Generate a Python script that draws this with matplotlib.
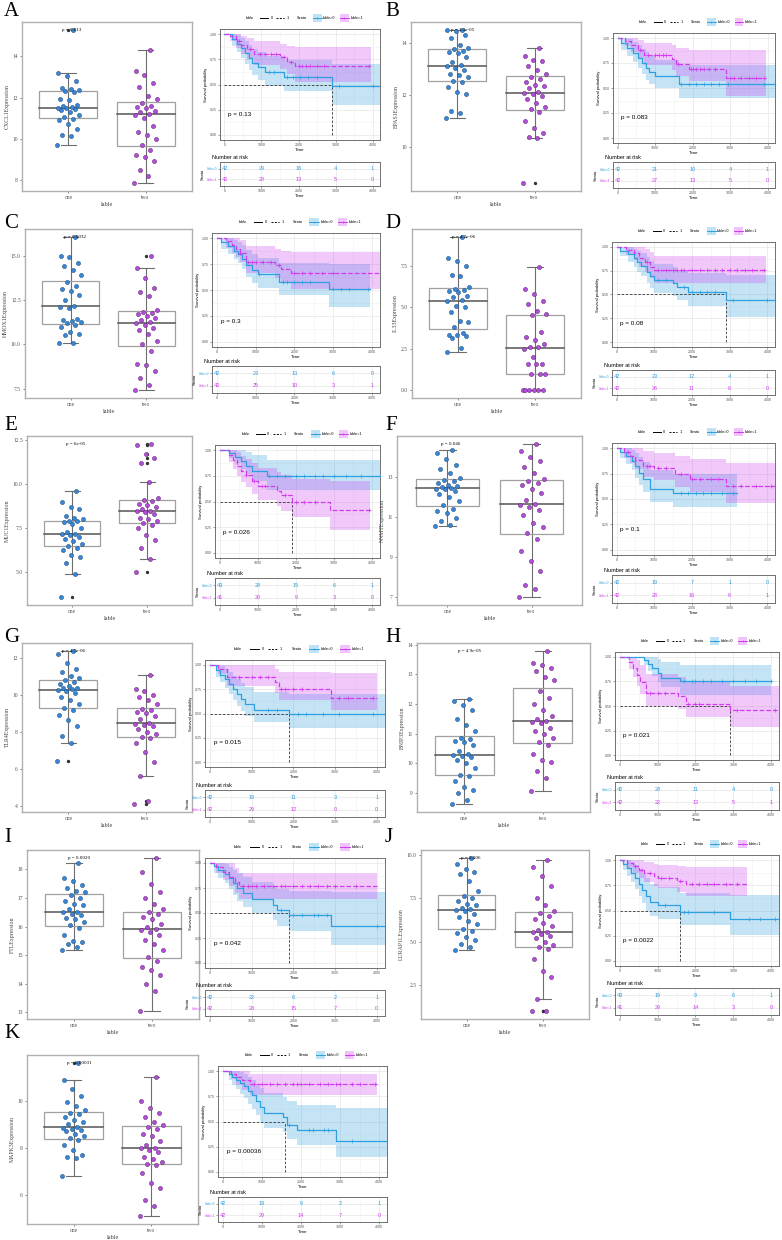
import matplotlib
matplotlib.use('Agg')
import matplotlib.pyplot as plt
from matplotlib.patches import Rectangle
import numpy as np

plt.rcParams['font.family'] = ['Liberation Sans', 'DejaVu Sans']

# ---------------------------------------------------------------- data
panels = list('ABCDEFGHIJK')
genes = ['CXCL1', 'EPAS1', 'HMOX1', 'IL33', 'MUC1', 'NNMT', 'TLR4', 'BNIP3', 'FTL', 'LURAP1L', 'MAPK3']
box_pvals = ['p = 0.013', 'p = 1.3e-05', 'p = 0.0032', 'p = 4.7e-06', 'p = 6e-05', 'p = 0.046',
             'p = 4.7e-06', 'p = 4.9e-05', 'p = 0.0020', 'p = 0.006', 'p = 0.00031']
km_pvals = ['p = 0.13', 'p = 0.083', 'p = 0.3', 'p = 0.08', 'p = 0.026', 'p = 0.1',
            'p = 0.015', 'p = 0.021', 'p = 0.042', 'p = 0.0022', 'p = 0.00036']
box_ticks = [[8, 10, 12, 14], [10, 12, 14], [7.5, 10.0, 12.5, 15.0], [0.0, 2.5, 5.0, 7.5],
             [5.0, 7.5, 10.0, 12.5], [7, 9, 11, 13], [4, 6, 8, 10, 12], [9, 10, 11, 12, 13, 14],
             [13, 14, 15, 16, 17, 18], [2.5, 5.0, 7.5, 10.0], [6, 8, 10]]

expr_one = [
    [9.68, 10.15, 10.2, 10.5, 10.7, 10.9, 10.98, 11.05, 11.15, 11.3, 11.4, 11.45, 11.48, 11.51,
     11.53, 11.6, 11.65, 11.9, 11.95, 12.25, 12.3, 12.35, 12.4, 12.45, 12.8, 13.05, 13.2, 15.3],
    [11.13, 11.3, 11.4, 12.05, 12.1, 12.3, 12.5, 12.55, 12.7, 12.75, 12.8, 12.95, 13.05, 13.1,
     13.14, 13.25, 13.45, 13.6, 13.65, 13.7, 13.75, 13.8, 13.9, 14.2, 14.3, 14.45, 14.5, 14.5],
    [10.05, 10.1, 10.5, 10.6, 10.7, 11.0, 11.1, 11.2, 11.25, 11.3, 11.35, 11.45, 12.05, 12.13,
     12.17, 12.5, 12.8, 13.0, 13.1, 13.3, 13.5, 13.9, 14.2, 14.4, 14.6, 14.9, 15.0, 16.07],
    [2.31, 2.55, 3.15, 3.25, 3.3, 3.35, 3.42, 3.8, 4.1, 4.15, 4.7, 5.0, 5.1, 5.35,
     5.45, 5.6, 5.7, 5.9, 6.0, 6.05, 6.12, 6.2, 6.85, 6.95, 7.45, 7.75, 7.95, 9.24],
    [3.57, 4.91, 5.5, 5.85, 6.0, 6.25, 6.4, 6.5, 6.6, 6.75, 6.9, 7.0, 7.1, 7.15,
     7.18, 7.3, 7.5, 7.75, 7.85, 7.88, 7.9, 8.0, 8.1, 8.2, 8.6, 8.7, 9.0, 9.59],
    [10.55, 10.6, 10.8, 10.95, 11.2, 11.3, 11.4, 11.6, 11.8, 12.0, 12.15, 12.3, 12.38, 12.41,
     12.43, 12.5, 12.55, 12.6, 12.7, 12.8, 12.85, 12.95, 13.2, 13.4, 13.6, 13.9, 14.2, 14.33],
    [6.43, 7.38, 7.8, 8.3, 8.65, 8.9, 9.2, 9.3, 9.5, 9.7, 9.9, 10.1, 10.2, 10.27,
     10.3, 10.35, 10.4, 10.5, 10.6, 10.7, 10.78, 10.9, 11.0, 11.25, 11.4, 11.7, 12.2, 12.39],
    [8.61, 8.75, 9.0, 9.1, 9.2, 9.4, 9.55, 9.6, 9.85, 10.0, 10.1, 10.2, 10.25, 10.27,
     10.3, 10.4, 10.6, 10.7, 10.75, 10.8, 10.85, 11.1, 11.3, 11.5, 11.8, 11.95, 12.1, 12.17],
    [15.17, 15.3, 15.4, 15.45, 15.5, 15.7, 15.95, 16.05, 16.15, 16.25, 16.3, 16.4, 16.45, 16.5,
     16.52, 16.6, 16.75, 16.8, 16.9, 17.0, 17.1, 17.2, 17.25, 17.35, 17.45, 17.6, 17.7, 18.21],
    [4.54, 4.7, 4.85, 5.1, 5.3, 5.5, 5.65, 5.75, 6.0, 6.2, 6.4, 6.6, 6.75, 6.82,
     6.86, 6.95, 7.1, 7.2, 7.35, 7.5, 7.65, 7.9, 8.5, 8.9, 9.0, 9.2, 9.5, 9.84],
    [6.8, 7.55, 7.6, 7.7, 7.9, 8.1, 8.35, 8.4, 8.5, 8.6, 8.7, 8.75, 8.8, 8.85,
     8.88, 9.0, 9.1, 9.2, 9.3, 9.45, 9.5, 9.6, 9.8, 9.95, 10.2, 10.5, 10.88, 11.63],
]
expr_two = [
    [7.84, 8.2, 8.5, 8.9, 9.1, 9.2, 9.45, 9.7, 10.0, 10.2, 10.35, 10.6, 11.0, 11.18,
     11.22, 11.3, 11.35, 11.5, 11.55, 11.6, 11.75, 11.95, 12.1, 12.5, 12.7, 13.1, 13.3, 14.29],
    [8.62, 10.36, 10.4, 10.55, 10.75, 11.0, 11.35, 11.45, 11.55, 11.7, 11.85, 11.95, 12.02, 12.08,
     12.1, 12.25, 12.35, 12.4, 12.5, 12.6, 12.68, 12.8, 12.95, 13.1, 13.3, 13.35, 13.5, 13.79],
    [7.41, 7.7, 8.1, 8.5, 8.85, 8.9, 9.6, 10.0, 10.2, 10.6, 10.8, 10.95, 11.1, 11.2,
     11.25, 11.4, 11.5, 11.6, 11.7, 11.75, 11.85, 11.95, 12.7, 12.95, 13.15, 13.75, 14.32, 15.0],
    [0.0, 0.0, 0.0, 0.0, 0.0, 0.0, 1.0, 1.0, 1.0, 1.6, 1.6, 1.6, 2.0, 2.5,
     2.6, 2.6, 2.8, 3.0, 3.2, 3.5, 4.5, 4.6, 4.8, 5.2, 5.4, 5.8, 6.1, 7.4],
    [5.0, 5.77, 6.4, 6.8, 7.1, 7.5, 7.7, 7.8, 7.9, 8.0, 8.1, 8.3, 8.4, 8.47,
     8.5, 8.6, 8.7, 8.8, 8.9, 9.05, 9.1, 9.2, 10.13, 11.2, 11.5, 11.7, 12.2, 12.3],
    [6.96, 7.4, 7.6, 8.3, 8.8, 9.3, 9.9, 10.2, 10.5, 10.7, 11.1, 11.35, 11.5, 11.6,
     11.65, 11.85, 12.2, 12.4, 12.6, 12.7, 12.8, 12.9, 13.2, 13.5, 13.8, 14.0, 14.3, 14.66],
    [4.09, 4.27, 5.62, 6.4, 6.9, 7.4, 7.65, 7.75, 7.9, 8.0, 8.15, 8.3, 8.4, 8.45,
     8.5, 8.7, 8.85, 9.0, 9.1, 9.2, 9.25, 9.5, 9.7, 9.9, 10.0, 10.2, 10.3, 11.07],
    [9.06, 9.5, 9.75, 10.05, 10.1, 10.3, 10.6, 10.7, 10.85, 11.0, 11.1, 11.2, 11.35, 11.4,
     11.42, 11.5, 11.6, 11.8, 12.0, 12.2, 12.45, 12.8, 12.9, 13.1, 13.2, 13.3, 13.4, 13.8],
    [13.04, 13.75, 14.0, 14.3, 14.5, 14.6, 14.8, 14.95, 15.2, 15.4, 15.55, 15.7, 15.8, 15.88,
     15.92, 16.0, 16.1, 16.25, 16.35, 16.45, 16.5, 16.6, 16.8, 17.0, 17.2, 17.5, 17.9, 18.41],
    [1.0, 1.03, 1.7, 3.0, 3.3, 4.0, 4.6, 4.7, 4.8, 5.0, 5.2, 5.35, 5.45, 5.55,
     5.57, 5.7, 5.9, 6.1, 6.3, 6.5, 6.65, 6.8, 7.1, 7.5, 8.2, 8.8, 9.3, 9.7],
    [5.07, 5.5, 5.75, 6.3, 6.5, 6.9, 7.25, 7.3, 7.4, 7.5, 7.6, 7.8, 7.9, 7.98,
     8.0, 8.1, 8.3, 8.5, 8.6, 8.8, 8.9, 8.95, 9.1, 9.3, 9.5, 9.7, 10.0, 11.0],
]

risk0 = [[42, 29, 16, 4, 1], [42, 21, 10, 4, 1], [42, 23, 13, 6, 0], [42, 23, 12, 4, 1],
         [43, 28, 15, 6, 1], [42, 19, 7, 1, 0], [42, 19, 11, 3, 1], [42, 28, 11, 4, 0],
         [42, 22, 8, 2, 1], [43, 19, 9, 6, 1], [42, 19, 9, 2, 1]]
risk1 = [[42, 28, 13, 5, 0], [42, 27, 13, 5, 0], [42, 25, 10, 3, 1], [42, 26, 11, 6, 0],
         [41, 20, 9, 3, 0], [42, 28, 16, 6, 1], [42, 29, 12, 0, 0], [42, 22, 12, 5, 1],
         [42, 28, 15, 7, 0], [41, 29, 14, 3, 0], [42, 29, 14, 7, 0]]
risk_times = [0, 1000, 2000, 3000, 4000]

# group table=0 survival steps
km0_time = [
    [0, 200, 350, 450, 550, 650, 750, 900, 1100, 1600, 2900],
    [0, 100, 250, 400, 550, 650, 750, 850, 1000, 1650],
    [0, 100, 300, 450, 550, 650, 750, 900, 1050, 1600, 2900],
    [0, 100, 300, 450, 550, 650, 800, 900, 1000, 1500, 1600, 1900, 2900],
    [0, 250, 400, 550, 700, 850, 1250],
    [0, 100, 250, 400, 500, 600, 700, 900, 1500],
    [0, 150, 250, 350, 450, 550, 650, 750, 850, 1050, 1900],
    [0, 650, 750, 850, 1000, 1100, 1600],
    [0, 100, 200, 350, 450, 550, 650, 800, 1000, 1500, 1600, 1900, 2900],
    [0, 100, 200, 300, 400, 500, 600, 700, 800, 1000, 1600, 2900],
    [0, 150, 250, 350, 450, 550, 650, 750, 850, 950, 1050, 1550, 1650, 1900, 2900],
]
km0_surv = [
    [1, .95, .90, .86, .81, .76, .71, .67, .62, .57, .49],
    [1, .95, .90, .85, .80, .75, .70, .66, .62, .545],
    [1, .96, .92, .88, .85, .80, .74, .69, .65, .58, .51],
    [1, .96, .92, .88, .84, .80, .74, .69, .655, .62, .58, .53, .44],
    [1, .97, .93, .89, .85, .80, .75],
    [1, .96, .92, .87, .82, .76, .70, .60, .56],
    [1, .95, .90, .85, .80, .75, .70, .65, .60, .54, .49],
    [1, .97, .93, .89, .84, .79, .75],
    [1, .97, .93, .89, .85, .80, .75, .70, .64, .58, .53, .48, .37],
    [1, .96, .92, .87, .82, .76, .70, .64, .58, .55, .49, .42],
    [1, .97, .94, .91, .88, .85, .80, .76, .70, .64, .58, .54, .47, .42, .31],
]
km0_low = [
    [1, .88, .82, .76, .70, .64, .59, .54, .49, .44, .30],
    [1, .88, .82, .76, .70, .64, .58, .54, .50, .40],
    [1, .90, .85, .80, .76, .70, .63, .57, .52, .45, .34],
    [1, .90, .84, .79, .74, .69, .62, .57, .52, .48, .44, .38, .26],
    [1, .92, .87, .82, .77, .70, .61],
    [1, .90, .84, .78, .71, .64, .57, .47, .42],
    [1, .88, .82, .76, .70, .64, .58, .53, .47, .41, .35],
    [1, .92, .86, .81, .74, .69, .61],
    [1, .90, .85, .80, .74, .68, .62, .56, .50, .43, .37, .32, .18],
    [1, .90, .84, .78, .71, .64, .57, .50, .45, .42, .36, .26],
    [1, .91, .86, .82, .77, .73, .67, .62, .56, .50, .44, .40, .33, .27, .15],
]
km0_high = [
    [1, 1, .99, .96, .93, .89, .85, .82, .78, .74, .70],
    [1, 1, .99, .96, .93, .89, .86, .82, .78, .73],
    [1, 1, 1, .98, .96, .93, .89, .85, .81, .76, .75],
    [1, 1, 1, .98, .96, .93, .89, .85, .82, .79, .76, .72, .70],
    [1, 1, 1, 1, .98, .95, .90],
    [1, 1, 1, .98, .95, .91, .86, .78, .75],
    [1, 1, .99, .96, .93, .89, .85, .81, .77, .72, .70],
    [1, 1, 1, 1, .98, .95, .915],
    [1, 1, 1, .99, .96, .93, .90, .86, .81, .77, .74, .72, .71],
    [1, 1, 1, .98, .95, .91, .87, .82, .76, .73, .67, .65],
    [1, 1, 1, 1, .99, .97, .94, .91, .87, .83, .78, .74, .70, .66, .63],
]
km0_end = [4200, 4200, 3950, 4200, 4200, 3200, 4200, 4000, 4200, 4200, 4200]
km0_censor = [
    [1200, 1350, 1700, 1850, 2050, 2250, 2500, 3100, 4000],
    [1700, 1900, 2100, 2300, 2500, 2700, 2950, 3900],
    [1100, 1700, 1800, 2000, 2200, 2400, 3000, 3200, 3400, 3900],
    [1100, 1300, 1800, 2000, 2200, 2400, 2600, 3100, 4000],
    [1300, 1500, 1700, 2000, 2200, 2500, 2700, 3000, 3300, 3700, 4200],
    [1700, 1900, 2100, 2300, 2500, 2800, 3100],
    [1400, 1600, 2100, 2300, 2700, 3100, 3900],
    [1700, 1900, 2000, 2200, 2400, 2700, 3000, 3300, 3600, 4000],
    [1700, 2000, 2200, 2500, 2600, 2800, 4000],
    [1200, 1700, 1800, 2500, 3400, 3700, 4100],
    [1700, 2200, 2300, 2600, 2700, 3300],
]

# group table=1 survival steps
km1_time = [
    [0, 150, 300, 450, 600, 800, 1500, 1700, 1900],
    [0, 200, 350, 550, 700, 1450, 1550, 1900, 2900],
    [0, 250, 400, 500, 600, 750, 1500, 1650, 1900],
    [0, 250, 450, 600, 750, 900, 1000],
    [0, 250, 350, 450, 550, 700, 850, 1000, 1500, 1600, 1900, 2900],
    [0, 200, 350, 500, 700, 1000, 1550, 1950, 2900],
    [0, 200, 400, 1550, 1650, 2900],
    [0, 250, 350, 450, 550, 700, 1550, 1750, 2900],
    [0, 150, 300, 450, 600, 700],
    [0, 200, 350, 500, 650, 900, 1000, 1500, 1750],
    [0, 200, 350, 500, 700],
]
km1_surv = [
    [1, .98, .93, .89, .85, .80, .77, .72, .68],
    [1, .97, .93, .88, .83, .79, .74, .69, .60],
    [1, .97, .93, .90, .86, .77, .74, .70, .66],
    [1, .97, .93, .88, .84, .79, .76],
    [1, .95, .90, .85, .80, .76, .70, .65, .60, .56, .50, .42],
    [1, .96, .92, .88, .82, .80, .75, .70, .63],
    [1, .96, .875, .82, .755, .66],
    [1, .95, .89, .82, .74, .63, .60, .52, .46],
    [1, .96, .91, .86, .81, .77],
    [1, .97, .94, .90, .87, .84, .82, .79, .76],
    [1, .97, .94, .91, .87],
]
km1_low = [
    [1, .93, .86, .80, .75, .69, .65, .60, .52],
    [1, .92, .86, .79, .73, .68, .62, .57, .42],
    [1, .91, .86, .82, .77, .66, .62, .57, .51],
    [1, .91, .86, .79, .74, .67, .62],
    [1, .88, .82, .75, .69, .64, .57, .51, .46, .41, .35, .22],
    [1, .90, .85, .79, .72, .69, .62, .57, .46],
    [1, .91, .78, .71, .64, .54],
    [1, .88, .80, .70, .62, .50, .47, .39, .29],
    [1, .90, .83, .77, .70, .64],
    [1, .92, .87, .82, .78, .74, .72, .68, .64],
    [1, .92, .86, .81, .76],
]
km1_high = [
    [1, 1, 1, .98, .96, .93, .90, .88, .87],
    [1, 1, 1, .98, .95, .93, .90, .88, .88],
    [1, 1, 1, 1, .98, .92, .90, .88, .87],
    [1, 1, 1, 1, .98, .94, .90],
    [1, 1, 1, .98, .94, .91, .87, .83, .79, .76, .72, .70],
    [1, 1, 1, 1, .97, .95, .92, .89, .85],
    [1, 1, 1, .96, .93, .92],
    [1, 1, 1, .97, .92, .83, .80, .74, .70],
    [1, 1, 1, 1, .95, .90],
    [1, 1, 1, 1, .98, .96, .95, .94, .93],
    [1, 1, 1, 1, .97],
]
km1_end = [3950, 3950, 4200, 3950, 3950, 4200, 4000, 4200, 4000, 3350, 3950]
km1_censor = [
    [400, 700, 950, 1100, 1250, 1400, 1600, 1800, 2000, 2100, 2200, 2300, 2500, 2700, 3900],
    [600, 800, 1000, 1100, 1200, 1300, 1600, 1950, 2000, 2100, 2200, 2300, 2450, 2600,
     3000, 3100, 3300, 3500, 3700, 3900],
    [600, 800, 900, 1000, 1200, 1400, 1600, 2000, 2200, 2400, 2700, 3000],
    [800, 1100, 1300, 1500, 1600, 1700, 1800, 2000, 2200, 2400, 2600, 2800, 3000, 3200,
     3400, 3600, 3900],
    [700, 900, 1100, 1200, 1700, 2000, 2200, 2500, 3900],
    [300, 800, 900, 1100, 1300, 1700, 2000, 2200, 2500, 2700, 3100, 3300, 3700, 4100],
    [700, 1000, 1200, 1400, 1700, 1800, 2000, 2200, 3100, 3300, 3900],
    [800, 1000, 1200, 1800, 2000, 2100, 3100, 4100],
    [800, 900, 1000, 1100, 1300, 1500, 1700, 1800, 2000, 2200, 2400, 2600, 2800, 3000, 3500],
    [400, 600, 800, 1100, 1300, 1600, 1900, 2100, 2300, 2500, 2800, 3100],
    [800, 1000, 1200, 1400, 1600, 1800, 1900, 2000, 2200, 2500, 2700, 2900, 3000, 3300,
     3500, 3900],
]
median_time = [2900, None, None, 2900, 1900, None, 1900, 2900, 1900, 1600, 1600]

# ---------------------------------------------------------------- layout (pixels)
W, H = 782, 1240
row_top = [22, 229, 436, 643, 850, 1055]
box_h = 169
letter_y = [12, 224, 426, 638, 837, 1034]
box_x = [(22, 192), (411, 581), (25, 192), (412, 581), (27, 192), (397, 582),
         (22, 192), (417, 590), (27, 199), (421, 589), (27, 198)]
km_box = [(220, 29, 380, 140), (613, 33, 775, 143), (212, 233, 380, 347), (612, 242, 775, 347),
          (215, 445, 380, 558), (612, 443, 775, 555), (205, 660, 385, 767), (615, 652, 779, 760),
          (205, 858, 385, 968), (615, 855, 779, 966), (218, 1066, 387, 1177)]
risk_box = [(220, 162, 380, 186), (613, 162, 775, 188), (212, 366, 380, 393), (612, 370, 775, 395),
            (215, 578, 380, 605), (612, 575, 775, 603), (205, 790, 385, 817), (615, 782, 779, 810),
            (205, 990, 385, 1016), (615, 988, 779, 1015), (218, 1197, 387, 1222)]

BLUE = '#2E9FDF'
PURPLE = '#D03BF0'
PT_BLUE = '#3A86D4'
PT_PURPLE = '#B14FD6'
SERIF = ['Liberation Serif', 'DejaVu Serif']

fig = plt.figure(figsize=(W / 100, H / 100), dpi=100)


def px_axes(x0, y0, x1, y1):
    return fig.add_axes([x0 / W, 1 - y1 / H, (x1 - x0) / W, (y1 - y0) / H])


def step_value(times, surv, t):
    idx = np.searchsorted(times, t, side='right') - 1
    return surv[max(idx, 0)]


def draw_box(ax, k):
    groups = [np.array(expr_one[k]), np.array(expr_two[k])]
    colors = [PT_BLUE, PT_PURPLE]
    edges = ['#1D4F80', '#5E2373']
    stats = matplotlib.cbook.boxplot_stats(groups, whis=1.5)
    for pos, st in zip([1, 2], stats):
        ax.plot([pos, pos], [st['whislo'], st['whishi']], color='#6E6E6E', lw=0.8, zorder=1)
        for yv in (st['whislo'], st['whishi']):
            ax.plot([pos - 0.1, pos + 0.1], [yv, yv], color='#6E6E6E', lw=0.8, zorder=1)
        ax.add_patch(Rectangle((pos - 0.375, st['q1']), 0.75, st['q3'] - st['q1'],
                               fill=False, ec='#A0A0A0', lw=0.9, zorder=2))
        ax.plot([pos - 0.375, pos + 0.375], [st['med'], st['med']], color='#555555', lw=1.1, zorder=2)
        if len(st['fliers']):
            ax.scatter(np.full(len(st['fliers']), pos), st['fliers'], s=2, color='#333333', zorder=2)
    for pos, vals, c, e in zip([1, 2], groups, colors, edges):
        n = len(vals)
        jit = ((np.arange(n) * 0.618034) % 1.0 - 0.5) * 0.3
        ax.scatter(pos + jit, vals, s=9, color=c, edgecolors=e, linewidths=0.35, zorder=3)
    allv = np.concatenate(groups)
    lo, hi = allv.min(), allv.max()
    pad = (hi - lo) * 0.05
    ax.set_ylim(lo - pad, hi + pad)
    ax.set_xlim(0.4, 2.6)
    ax.text(0.92, hi, box_pvals[k], fontsize=3.6, va='center', ha='left', family=SERIF, zorder=4)
    ax.set_xticks([1, 2])
    ax.set_xticklabels(['one', 'two'], family=SERIF, fontsize=4)
    ax.set_yticks(box_ticks[k])
    if isinstance(box_ticks[k][0], float):
        ax.set_yticklabels(['%.1f' % v for v in box_ticks[k]], family=SERIF, fontsize=4)
    else:
        ax.set_yticklabels([str(v) for v in box_ticks[k]], family=SERIF, fontsize=4)
    ax.set_xlabel('lable', family=SERIF, fontsize=4.5, labelpad=1, color='#444444')
    ax.set_ylabel(genes[k] + 'Expression', family=SERIF, fontsize=4.2, labelpad=2, color='#444444')
    ax.tick_params(length=1.5, width=0.5, pad=1.5, colors='#555555')
    for sp in ax.spines.values():
        sp.set_color('#B0B0B0')
        sp.set_linewidth(1.0)


def km_grid(ax):
    ax.set_xlim(-120, 4200)
    for t in [0, 1000, 2000, 3000, 4000]:
        ax.axvline(t, color='#E6E6E6', lw=0.5, zorder=0)
    for t in [500, 1500, 2500, 3500]:
        ax.axvline(t, color='#F2F2F2', lw=0.4, zorder=0)
    ax.set_xticks([0, 1000, 2000, 3000, 4000])
    ax.set_xticklabels(['0', '1000', '2000', '3000', '4000'], fontsize=2.6)
    ax.tick_params(length=1.2, width=0.4, pad=1, colors='#555555')
    for sp in ax.spines.values():
        sp.set_color('#707070')
        sp.set_linewidth(0.7)


def draw_km(ax, k):
    km_grid(ax)
    ax.set_ylim(-0.05, 1.05)
    for yv in [0, .25, .5, .75, 1]:
        ax.axhline(yv, color='#E6E6E6', lw=0.5, zorder=0)
    for yv in [.125, .375, .625, .875]:
        ax.axhline(yv, color='#F2F2F2', lw=0.4, zorder=0)
    curves = [(km0_time[k], km0_surv[k], km0_low[k], km0_high[k], km0_end[k], km0_censor[k], BLUE, '-'),
              (km1_time[k], km1_surv[k], km1_low[k], km1_high[k], km1_end[k], km1_censor[k], PURPLE, '--')]
    for t, s, lo, hi, tend, cens, c, ls in curves:
        xs = list(t) + [tend]
        ax.fill_between(xs, list(lo) + [lo[-1]], list(hi) + [hi[-1]], step='post',
                        color=c, alpha=0.28, lw=0, zorder=1)
    for t, s, lo, hi, tend, cens, c, ls in curves:
        xs = list(t) + [tend]
        ax.step(xs, list(s) + [s[-1]], where='post', color=c, lw=0.9, ls=ls, zorder=3)
        cy = [step_value(t, s, ct) for ct in cens]
        ax.plot(cens, cy, ls='none', marker='+', ms=2.2, mew=0.5, color=c, zorder=4)
    m = median_time[k]
    if m is not None:
        ax.plot([0, m], [0.5, 0.5], color='#333333', lw=0.6, ls=(0, (3, 2)), zorder=2)
        ax.plot([m, m], [0, 0.5], color='#333333', lw=0.6, ls=(0, (3, 2)), zorder=2)
    ax.text(100, 0.2, km_pvals[k], fontsize=4.6, ha='left', va='center')
    ax.set_yticks([0, .25, .5, .75, 1])
    ax.set_yticklabels(['0.00', '0.25', '0.50', '0.75', '1.00'], fontsize=2.6)
    ax.set_ylabel('Survival probability', fontsize=3, labelpad=1.5)
    ax.set_xlabel('Time', fontsize=3.2, labelpad=0.5)


def draw_legend(ax, hpx):
    y = 1 + 11 / hpx
    tr = ax.transAxes
    kw = dict(transform=tr, fontsize=2.7, va='center', clip_on=False)
    ax.text(0.16, y, 'lable', ha='left', **kw)
    ax.plot([0.25, 0.30], [y, y], color='black', lw=0.7, transform=tr, clip_on=False)
    ax.text(0.315, y, '0', ha='left', **kw)
    ax.plot([0.35, 0.40], [y, y], color='black', lw=0.7, ls=(0, (2, 1.5)), transform=tr, clip_on=False)
    ax.text(0.415, y, '1', ha='left', **kw)
    ax.text(0.48, y, 'Strata', ha='left', **kw)
    for x0, c, lab in [(0.58, BLUE, 'lable=0'), (0.75, PURPLE, 'lable=1')]:
        ax.add_patch(Rectangle((x0, y - 0.035), 0.055, 0.07, transform=tr, clip_on=False,
                               color=c, alpha=0.3, lw=0))
        ax.plot([x0, x0 + 0.055], [y, y], color=c, lw=0.7, transform=tr, clip_on=False)
        ax.plot([x0 + 0.0275], [y], marker='+', ms=2, mew=0.5, color=c, transform=tr, clip_on=False)
        ax.text(x0 + 0.065, y, lab, ha='left', **kw)


def draw_risk(ax, k):
    km_grid(ax)
    ax.set_ylim(0.4, 2.6)
    for yv in [1, 2]:
        ax.axhline(yv, color='#E6E6E6', lw=0.5, zorder=0)
    for t, n0, n1 in zip(risk_times, risk0[k], risk1[k]):
        ax.text(t, 2, str(n0), color=BLUE, fontsize=4, ha='center', va='center')
        ax.text(t, 1, str(n1), color=PURPLE, fontsize=4, ha='center', va='center')
    ax.set_yticks([2, 1])
    ax.set_yticklabels(['lable=0', 'lable=1'], fontsize=2.3)
    for lab, c in zip(ax.get_yticklabels(), [BLUE, PURPLE]):
        lab.set_color(c)
    ax.set_ylabel('Strata', fontsize=3, labelpad=1)
    ax.set_xlabel('Time', fontsize=3.2, labelpad=0.5)
    ax.set_title('Number at risk', fontsize=4, loc='left', pad=2, x=-0.05)


for k, letter in enumerate(panels):
    row = k // 2
    col = k % 2
    top = row_top[row]
    bx0, bx1 = box_x[k]
    draw_box(px_axes(bx0, top, bx1, top + box_h), k)
    x0, y0, x1, y1 = km_box[k]
    ax_km = px_axes(x0, y0, x1, y1)
    draw_km(ax_km, k)
    draw_legend(ax_km, y1 - y0)
    draw_risk(px_axes(*risk_box[k]), k)
    fig.text((4 if col == 0 else 385) / W, 1 - letter_y[row] / H, letter, fontsize=15,
             family=SERIF, ha='left', va='center')

fig.savefig('out.png', dpi=100, facecolor='white')
